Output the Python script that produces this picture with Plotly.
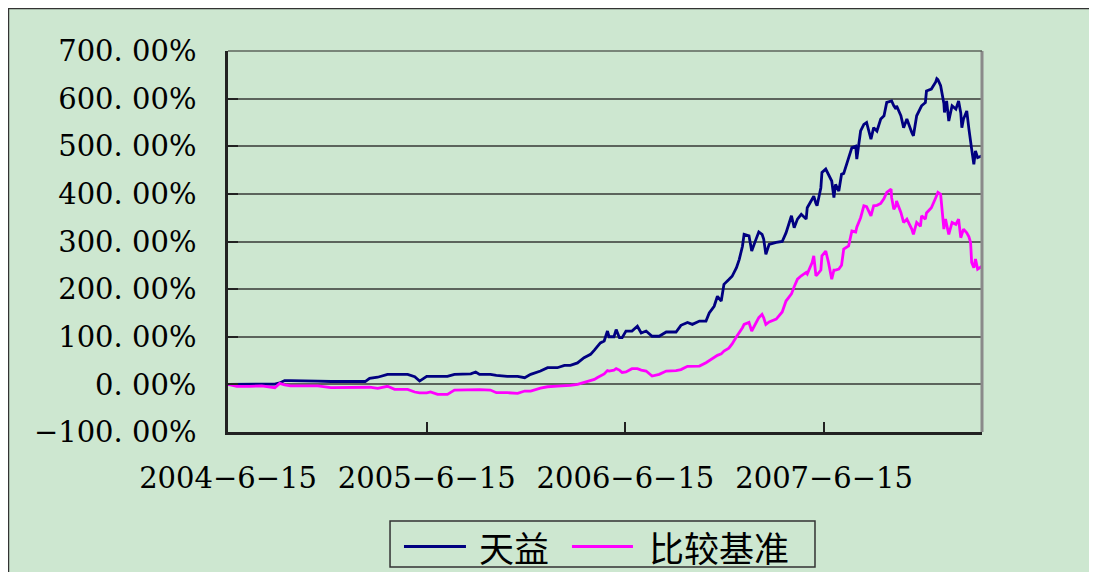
import plotly.graph_objects as go

# ---- data ----
dates = [
    "2004-06-15", "2004-07-01", "2004-07-25", "2004-08-16", "2004-09-09", "2004-09-18", "2004-09-27",
    "2004-10-08", "2004-11-03", "2004-11-27", "2004-12-21", "2005-01-25", "2005-02-22", "2005-03-02",
    "2005-03-17", "2005-04-04", "2005-04-17", "2005-05-11", "2005-05-24", "2005-06-02", "2005-06-15",
    "2005-06-22", "2005-07-05", "2005-07-23", "2005-08-05", "2005-09-04", "2005-09-13", "2005-09-20",
    "2005-10-10", "2005-10-21", "2005-11-10", "2005-11-29", "2005-12-12", "2005-12-23", "2006-01-10",
    "2006-01-23", "2006-02-10", "2006-02-23", "2006-03-06", "2006-03-19", "2006-03-31", "2006-04-12",
    "2006-04-19", "2006-04-24", "2006-04-30", "2006-05-07", "2006-05-13", "2006-05-16", "2006-05-25",
    "2006-05-29", "2006-06-04", "2006-06-09", "2006-06-16", "2006-06-27", "2006-07-07", "2006-07-14",
    "2006-07-23", "2006-08-03", "2006-08-16", "2006-08-29", "2006-09-16", "2006-09-25", "2006-10-07",
    "2006-10-16", "2006-10-29", "2006-11-10", "2006-11-16", "2006-11-25", "2006-12-01", "2006-12-08",
    "2006-12-13", "2006-12-22", "2006-12-28", "2007-01-05", "2007-01-10", "2007-01-16", "2007-01-19",
    "2007-01-28", "2007-02-02", "2007-02-10", "2007-02-15", "2007-02-21", "2007-02-24", "2007-02-28",
    "2007-03-06", "2007-03-19", "2007-03-30", "2007-04-06", "2007-04-16", "2007-04-21", "2007-04-27",
    "2007-05-04", "2007-05-13", "2007-05-15", "2007-05-24", "2007-05-27", "2007-05-31", "2007-06-02",
    "2007-06-09", "2007-06-11", "2007-06-18", "2007-06-23", "2007-06-29", "2007-07-03", "2007-07-06",
    "2007-07-12", "2007-07-17", "2007-07-21", "2007-07-30", "2007-08-05", "2007-08-12", "2007-08-14",
    "2007-08-21", "2007-08-27", "2007-09-01", "2007-09-09", "2007-09-14", "2007-09-20", "2007-09-27",
    "2007-10-03", "2007-10-08", "2007-10-16", "2007-10-17", "2007-10-21", "2007-10-25", "2007-10-26",
    "2007-11-03", "2007-11-08", "2007-11-14", "2007-11-23", "2007-11-26", "2007-12-02", "2007-12-09",
    "2007-12-11", "2007-12-18", "2007-12-20", "2007-12-29", "2008-01-06", "2008-01-08", "2008-01-10",
    "2008-01-15", "2008-01-17", "2008-01-19", "2008-01-21", "2008-01-22", "2008-01-24", "2008-01-26",
    "2008-01-30", "2008-02-05", "2008-02-12", "2008-02-17", "2008-02-21", "2008-02-23", "2008-02-26",
    "2008-03-03", "2008-03-07", "2008-03-10", "2008-03-12", "2008-03-16", "2008-03-19", "2008-03-23",
    "2008-03-31",
]

tianyi = [
    0, 0, 0, 0, 0.5, 3, 8,
    8, 8, 7, 6, 5.6, 6, 12.6,
    15, 21, 21, 21, 16, 7, 17,
    17, 17, 17, 21, 22, 26, 21,
    21, 19, 17, 17, 14, 21, 28,
    35, 35, 40, 40, 45, 56, 63,
    72, 80, 87, 91, 112, 100, 100,
    115, 98, 98, 112, 112, 122, 108,
    112, 101, 101, 110, 110, 124, 130,
    126, 133, 133, 150, 164, 185, 175,
    210, 220, 227, 245, 262, 290, 315,
    312, 280, 305, 320, 315, 305, 273,
    294, 298, 300, 318, 354, 329, 347,
    357, 347, 371, 389, 395, 380, 375,
    413, 445, 452, 440, 427, 392, 420,
    406, 441, 443, 476, 497, 500, 473,
    532, 546, 550, 515, 539, 532, 557,
    564, 592, 595, 595, 585, 578, 585,
    564, 539, 557, 529, 522, 564, 578,
    585, 592, 616, 620, 635, 642, 640,
    627, 615, 606, 590, 571, 585, 595,
    553, 585, 578, 595, 570, 539, 557,
    574, 536, 515, 494, 462, 490, 476,
    480,
]

benchmark = [
    0, -4, -4, -3, -7, 2, -1,
    -3, -3, -3, -7, -6, -6, -6,
    -8.5, -4, -10.5, -10.5, -16, -18, -18,
    -16, -21, -21, -12, -11, -11, -11,
    -12, -17.5, -17.5, -19, -14, -14, -8,
    -5, -3.5, -3, -2, 0, 3.5, 7,
    10.5, 14, 17, 22, 29, 28, 30,
    33, 30, 25, 26, 33, 33, 30,
    28, 17.5, 21, 28, 29, 31, 38,
    38.5, 38.5, 45.5, 50, 58, 61, 64,
    70, 76, 85, 100, 108, 119, 126,
    130, 112, 130, 140, 147, 140, 126,
    131, 137, 152, 175, 190, 205, 221,
    228, 235, 232, 256, 270, 228, 230,
    240, 270, 280, 256, 221, 240, 240,
    242, 250, 284, 291, 322, 320, 330,
    350, 375, 373, 354, 375, 376, 380,
    390, 403, 410, 392, 368, 375, 385,
    361, 340, 347, 326, 315, 340, 332,
    354, 347, 360, 371, 392, 400, 403,
    399, 368, 345, 326, 340, 347, 336,
    315, 340, 336, 347, 308, 315, 326,
    318, 310, 298, 256, 245, 263, 242,
    248,
]

series_names = ["天益", "比较基准"]
series_colors = ["#000080", "#FF00FF"]
y_tick_values = [-100, 0, 100, 200, 300, 400, 500, 600, 700]
y_tick_labels = ["\u2212100. 00%", "0. 00%", "100. 00%", "200. 00%", "300. 00%",
                 "400. 00%", "500. 00%", "600. 00%", "700. 00%"]
x_tick_values = ["2004-06-15", "2005-06-15", "2006-06-15", "2007-06-15"]
x_tick_labels = ["2004\u22126\u221215", "2005\u22126\u221215", "2006\u22126\u221215", "2007\u22126\u221215"]

# ---- styling ----
BG = "#CDE7D0"
NUM_FONT = dict(family="DejaVu Serif", size=29, color="black")
LEGEND_FONT = dict(family="Noto Sans CJK SC", size=35, color="black")

fig = go.Figure()
for name, color, values in zip(series_names, series_colors, [tianyi, benchmark]):
    fig.add_trace(go.Scatter(x=dates, y=values, mode="lines", name=name,
                             line=dict(color=color, width=2.8), showlegend=False))

# legend drawn as a framed box below the plot (paper coordinates)
legend_box = dict(x0=0.2149, x1=0.7785, y0=-0.3543, y1=-0.2336)
legend_row_y = -0.3005
legend_line_x = [(0.2334, 0.3156), (0.4562, 0.5371)]
legend_text_x = [0.3302, 0.5557]

shapes = [
    # outer chart frame
    dict(type="rect", xref="paper", yref="paper", x0=-0.2918, x1=1.2, y0=-0.5, y1=1.1129,
         line=dict(color="#333333", width=2.5), fillcolor=BG, layer="below"),
    # right border of plot area
    dict(type="line", xref="paper", yref="paper", x0=1, x1=1, y0=0, y1=1,
         line=dict(color="#8a8a8a", width=3)),
    # top border of plot area
    dict(type="line", xref="paper", yref="paper", x0=0, x1=1, y0=1, y1=1,
         line=dict(color="#5c645c", width=1.5)),
    dict(type="rect", xref="paper", yref="paper", line=dict(color="#333333", width=1.5),
         fillcolor="rgba(0,0,0,0)", **legend_box),
]
annotations = []
for (lx0, lx1), tx, name, color in zip(legend_line_x, legend_text_x, series_names, series_colors):
    shapes.append(dict(type="line", xref="paper", yref="paper", x0=lx0, x1=lx1,
                       y0=legend_row_y, y1=legend_row_y, line=dict(color=color, width=2.8)))
    annotations.append(dict(xref="paper", yref="paper", x=tx, y=legend_row_y, text=name,
                            showarrow=False, xanchor="left", yanchor="middle", font=LEGEND_FONT))

# page body has an 8px default margin: plot area placed so it lands at x 228-982, y 51-432
fig.update_layout(
    width=1097, height=572,
    margin=dict(l=220, r=123, t=43, b=148, pad=0),
    paper_bgcolor="white",
    plot_bgcolor=BG,
    showlegend=False,
    xaxis=dict(
        type="date", range=["2004-06-15", "2008-03-31"],
        tickmode="array", tickvals=x_tick_values, ticktext=x_tick_labels,
        ticks="inside", ticklen=10, tickwidth=1.5, tickcolor="#222222",
        showgrid=False, zeroline=False,
        showline=True, linecolor="#222222", linewidth=2.5,
        tickfont=NUM_FONT, ticklabelstandoff=18,
    ),
    yaxis=dict(
        range=[-100, 700],
        tickmode="array", tickvals=y_tick_values, ticktext=y_tick_labels,
        ticks="inside", ticklen=10, tickwidth=1.5, tickcolor="#222222",
        showgrid=True, gridcolor="#5c645c", gridwidth=1.5,
        zeroline=True, zerolinecolor="#5c645c", zerolinewidth=1.5,
        showline=True, linecolor="#222222", linewidth=2.5,
        tickfont=NUM_FONT, ticklabelstandoff=23,
    ),
    shapes=shapes,
    annotations=annotations,
)

fig.write_html("out.html")
